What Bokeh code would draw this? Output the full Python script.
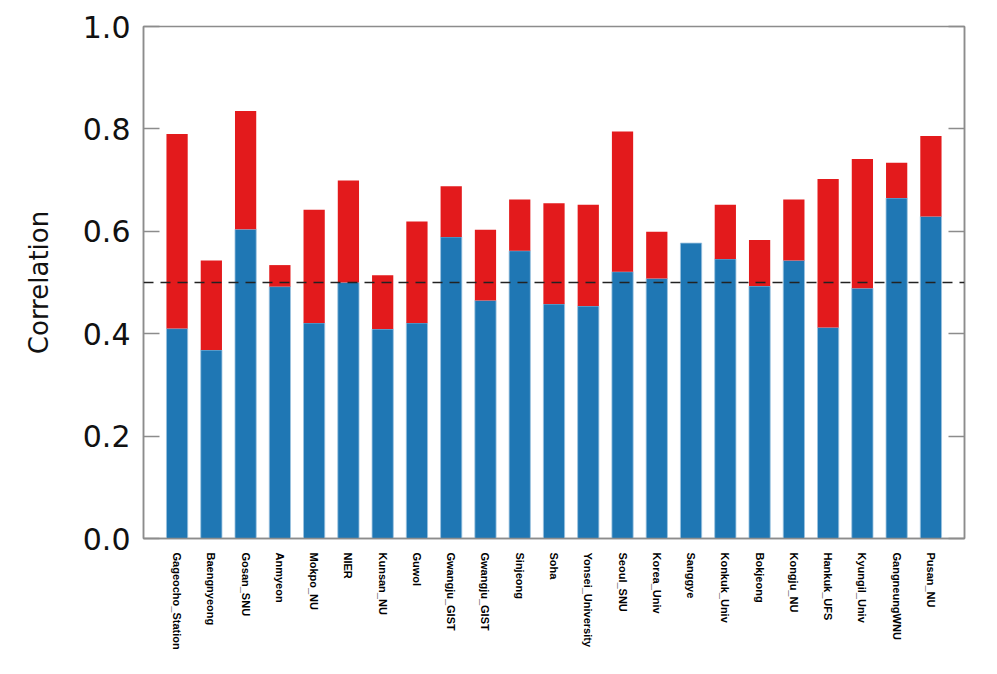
import math
from bokeh.plotting import figure
from bokeh.models import LinearAxis, FixedTicker, Span, ColumnDataSource, Range1d, CustomJSTickFormatter
from bokeh.embed import file_html
from bokeh.resources import INLINE

sites = ["Gageocho_Station", "Baengnyeong", "Gosan_SNU", "Anmyeon", "Mokpo_NU", "NIER",
         "Kunsan_NU", "Guwol", "Gwangju_GIST", "Gwangju_GIST", "Sinjeong", "Soha",
         "Yonsei_University", "Seoul_SNU", "Korea_Univ", "Sanggye", "Konkuk_Univ",
         "Bokjeong", "Kongju_NU", "Hankuk_UFS", "Kyungil_Univ", "GangneungWNU", "Pusan_NU"]
blue_vals = [0.410, 0.368, 0.604, 0.492, 0.421, 0.500, 0.409, 0.421, 0.589, 0.465, 0.562, 0.458,
             0.454, 0.521, 0.508, 0.577, 0.546, 0.493, 0.543, 0.412, 0.489, 0.665, 0.629]
total_vals = [0.790, 0.543, 0.835, 0.534, 0.642, 0.699, 0.514, 0.619, 0.688, 0.603, 0.662, 0.655,
              0.652, 0.795, 0.599, 0.577, 0.652, 0.583, 0.662, 0.702, 0.741, 0.734, 0.786]
y_ticks = [0.0, 0.2, 0.4, 0.6, 0.8, 1.0]
threshold = 0.5

xs = list(range(len(sites)))
src = ColumnDataSource(dict(x=xs, blue=blue_vals, total=total_vals))

p = figure(width=983, height=652, output_backend="svg", toolbar_location=None,
           x_range=Range1d(-0.98, len(sites) - 0.02), y_range=Range1d(0, 1.0),
           min_border_left=143, min_border_right=19, min_border_top=26, min_border_bottom=110,
           x_axis_location=None, y_axis_location=None)
p.grid.visible = False
p.outline_line_color = "#8c8c8c"
p.outline_line_width = 1.5
p.background_fill_color = "white"
p.border_fill_color = "white"

p.vbar(x="x", width=0.62, bottom=0, top="blue", source=src,
       fill_color="#1f77b4", line_color="#9cc3e0", line_width=0.8)
p.vbar(x="x", width=0.62, bottom="blue", top="total", source=src,
       fill_color="#e31a1c", line_color=None)

p.add_layout(Span(location=threshold, dimension="width", line_color="#222222",
                  line_width=1.5, line_dash="10 7"))

yl = LinearAxis(ticker=FixedTicker(ticks=y_ticks), axis_label="Correlation")
yl.formatter = CustomJSTickFormatter(code="return tick.toFixed(1);")
yl.major_label_text_font = "DejaVu Sans"
yl.major_label_text_font_size = "30px"
yl.major_label_text_color = "#111111"
yl.major_label_standoff = 13
yl.major_tick_in = 16
yl.major_tick_out = 0
yl.minor_tick_line_color = None
yl.major_tick_line_color = "#8c8c8c"
yl.major_tick_line_width = 1.5
yl.axis_line_color = "#8c8c8c"
yl.axis_line_width = 1.5
yl.axis_label_text_font = "DejaVu Sans"
yl.axis_label_text_font_size = "26px"
yl.axis_label_text_font_style = "normal"
yl.axis_label_text_color = "#111111"
yl.axis_label_standoff = 26
p.add_layout(yl, "left")

yr = LinearAxis(ticker=FixedTicker(ticks=y_ticks))
yr.major_label_text_font_size = "0px"
yr.major_label_text_color = None
yr.major_tick_in = 16
yr.major_tick_out = 0
yr.minor_tick_line_color = None
yr.major_tick_line_color = "#8c8c8c"
yr.major_tick_line_width = 1.5
yr.axis_line_color = "#8c8c8c"
yr.axis_line_width = 1.5
p.add_layout(yr, "right")

xb = LinearAxis(ticker=FixedTicker(ticks=xs))
xb.major_label_overrides = {i: s for i, s in enumerate(sites)}
xb.major_label_orientation = -math.pi / 2
xb.major_label_text_font = "Liberation Sans"
xb.major_label_text_font_style = "bold"
xb.major_label_text_font_size = "11px"
xb.major_label_text_color = "black"
xb.major_label_standoff = 8
xb.major_tick_line_color = None
xb.minor_tick_line_color = None
xb.axis_line_color = "#8c8c8c"
xb.axis_line_width = 1.5
p.add_layout(xb, "below")

open("out.html", "w").write(file_html(p, INLINE))
